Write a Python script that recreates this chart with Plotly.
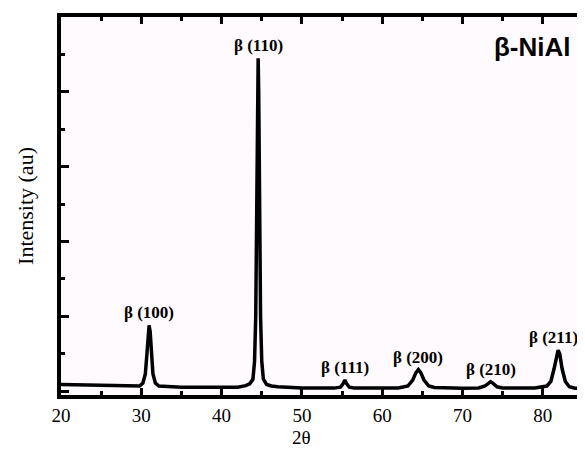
import plotly.graph_objects as go

# XRD pattern (2-theta in degrees, intensity in a.u.)
two_theta = [20.0, 22.0, 25.0, 28.0, 29.8, 30.2, 30.5, 30.7, 30.85, 30.97, 31.1, 31.25, 31.45, 31.75, 32.2,
             35.0, 40.0, 42.0, 43.0, 43.5, 43.9, 44.1, 44.25, 44.38, 44.48, 44.55, 44.62, 44.72, 44.85,
             45.0, 45.2, 45.6, 46.2, 47.0, 50.0, 54.0, 54.8, 55.1, 55.35, 55.6, 55.9, 56.5,
             60.0, 62.0, 63.2, 63.8, 64.2, 64.5, 64.8, 65.2, 65.8, 66.5, 70.0, 72.0, 72.8, 73.2,
             73.5, 73.8, 74.3, 75.0, 79.0, 80.5, 81.0, 81.4, 81.7, 81.9, 82.1, 82.4, 82.8, 83.3,
             84.0, 85.0, 85.5]
intensity = [90, 85, 75, 68, 70, 110, 230, 500, 800, 880, 800, 500, 230, 110, 70,
             55, 50, 55, 75, 100, 160, 400, 1000, 2500, 4000, 4450, 4000, 2500, 1000,
             400, 160, 90, 70, 60, 45, 42, 55, 95, 150, 95, 55, 45,
             40, 45, 70, 150, 250, 290, 250, 150, 70, 50, 40, 45, 70, 110,
             128, 105, 60, 45, 45, 70, 130, 300, 480, 550, 500, 300, 130, 60,
             40, 45, 60]

peak_pos = [31.0, 44.55, 55.35, 64.5, 73.5, 81.9]
peak_int = [880, 4450, 150, 290, 128, 550]
peak_labels = ["β (100)", "β (110)", "β (111)", "β (200)", "β (210)", "β (211)"]
label_dx = [0, 0, 0, 0, 0, -5]

x_ticks = [20, 30, 40, 50, 60, 70, 80]

SERIF = "Liberation Serif, Times New Roman, serif"

fig = go.Figure()
fig.add_trace(go.Scatter(x=two_theta, y=intensity, mode="lines",
                         line=dict(color="black", width=3.5), showlegend=False))
# invisible trace to carry right-hand ticks
fig.add_trace(go.Scatter(x=[20], y=[0], yaxis="y2", mode="markers",
                         marker=dict(opacity=0), showlegend=False, hoverinfo="skip"))

for px, pi, lab, dx in zip(peak_pos, peak_int, peak_labels, label_dx):
    fig.add_annotation(x=px, y=pi, text=f"<b>{lab}</b>", showarrow=False,
                       xanchor="center", yanchor="bottom", yshift=1, xshift=dx,
                       font=dict(family=SERIF, size=17, color="black"))

fig.add_annotation(x=83.8, y=4600, text="<b>β-NiAl</b>", showarrow=False,
                   xanchor="right", yanchor="middle",
                   font=dict(family="Liberation Sans, Arial, sans-serif", size=26, color="black"))

fig.add_annotation(x=50, y=0, xref="x", yref="paper", yshift=-42, text="2θ",
                   showarrow=False, xanchor="center", yanchor="middle",
                   font=dict(family=SERIF, size=19, color="black"))

tick_font = dict(family=SERIF, size=19, color="black")

# the page body has an 8px margin, so margins are offset to compensate
fig.update_layout(
    width=585, height=450,
    margin=dict(l=53, r=6, t=5, b=63),
    paper_bgcolor="white",
    plot_bgcolor="#fefafe",
    xaxis=dict(range=[20, 85.5], tickvals=x_ticks, ticks="inside", ticklen=7, tickwidth=3,
               tickcolor="black", showline=True, linewidth=3.5, linecolor="black",
               mirror="ticks", showgrid=False, zeroline=False, tickfont=tick_font,
               minor=dict(dtick=5, tick0=20, ticks="inside", ticklen=4, tickwidth=3,
                          tickcolor="black", showgrid=False)),
    yaxis=dict(range=[-50, 5000], dtick=1000, tick0=0, ticks="inside", ticklen=8, tickwidth=3,
               tickcolor="black", showline=True, linewidth=3.5, linecolor="black",
               showticklabels=False, showgrid=False, zeroline=False,
               title=dict(text="Intensity (au)", standoff=19,
                          font=dict(family=SERIF, size=22, color="black")),
               minor=dict(dtick=500, ticks="inside", ticklen=4, tickwidth=3,
                          tickcolor="black", showgrid=False)),
    yaxis2=dict(range=[-50, 5000], dtick=1000, tick0=0, overlaying="y", side="right",
                anchor="x", ticks="inside", ticklen=8, tickwidth=3, tickcolor="black",
                showline=False, showticklabels=False, showgrid=False, zeroline=False,
                minor=dict(dtick=500, ticks="inside", ticklen=4, tickwidth=3,
                           tickcolor="black", showgrid=False)),
)

fig.write_html("out.html")
